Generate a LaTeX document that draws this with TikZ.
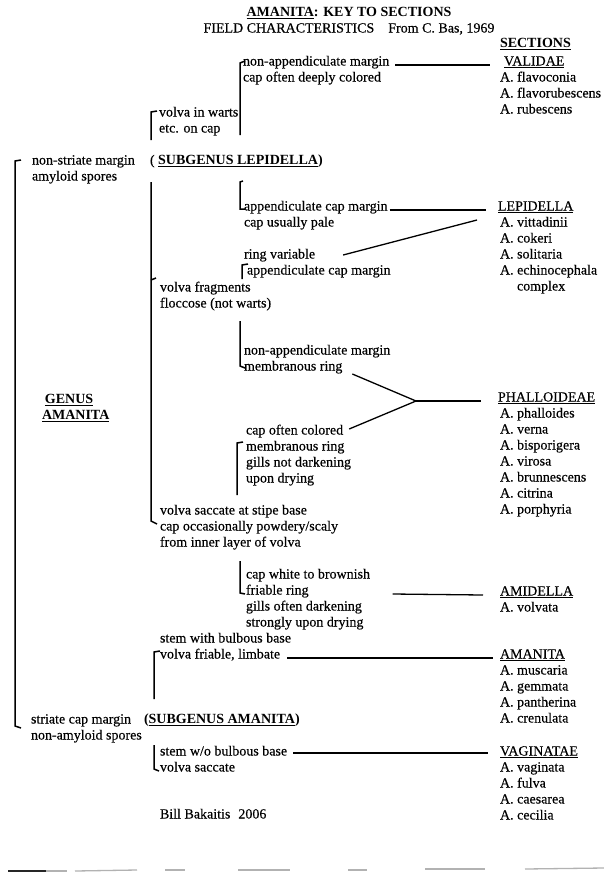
\documentclass[tikz,border=0pt]{standalone}
\usepackage{fontspec}
\setmainfont{Liberation Serif}[UprightFeatures={FakeBold=0.3}]
\usetikzlibrary{calc}
\newcommand\myul[1]{\setbox0\hbox{#1}\rlap{\rule[-2.3pt]{\wd0}{1.1pt}}\box0}
\begin{document}
\begin{tikzpicture}[x=1pt,y=-1pt,
  every node/.style={inner sep=0pt,outer sep=0pt},
  t/.style={anchor=west,text height=10pt,text depth=3pt,font=\fontsize{14}{16}\selectfont},
  brk/.style={line width=1.5pt},
  conn/.style={line width=1.3pt},
  scan/.style={line width=1.3pt,black!30}]
\useasboundingbox[fill=white] (0,0) rectangle (604,876);

% heading
\node[t,anchor=center] (title) at (349,13) {\textbf{\myul{AMANITA}: KEY TO SECTIONS}};
\node[t,anchor=center] (sub) at (349,29) {FIELD CHARACTERISTICS\hspace{14pt}From C. Bas, 1969};
\node[t] (sections) at (500,44) {\textbf{\myul{SECTIONS}}};

% sections column
\node[t] (validae) at (504,62) {\myul{VALIDAE}};
\foreach \s [count=\i] in {A. flavoconia, A. flavorubescens, A. rubescens}
  \node[t] (val\i) at (500,{62+16*\i}) {\s};
\node[t] (lep) at (498,207) {\myul{LEPIDELLA}};
\foreach \s [count=\i] in {A. vittadinii, A. cokeri, A. solitaria, A. echinocephala}
  \node[t] (lep\i) at (500,{207+16*\i}) {\s};
\node[t] (lep5) at (517,287) {complex};
\node[t] (phal) at (498,398) {\myul{PHALLOIDEAE}};
\foreach \s [count=\i] in {A. phalloides, A. verna, A. bisporigera, A. virosa, A. brunnescens, A. citrina, A. porphyria}
  \node[t] (phal\i) at (500,{398+16*\i}) {\s};
\node[t] (amid) at (500,592) {\myul{AMIDELLA}};
\node[t] (amid1) at (500,608) {A. volvata};
\node[t] (aman) at (500,655) {\myul{AMANITA}};
\foreach \s [count=\i] in {A. muscaria, A. gemmata, A. pantherina, A. crenulata}
  \node[t] (aman\i) at (500,{655+16*\i}) {\s};
\node[t] (vag) at (500,752) {\myul{VAGINATAE}};
\foreach \s [count=\i] in {A. vaginata, A. fulva, A. caesarea, A. cecilia}
  \node[t] (vag\i) at (500,{752+16*\i}) {\s};

% key texts
\node[t] (ns1) at (32,161) {non-striate margin};
\node[t] (ns2) at (32,177) {amyloid spores};
\node[t] (subl) at (150,161) {( \textbf{\myul{SUBGENUS LEPIDELLA})}};
\node[t] (vw1) at (159,113) {volva in warts};
\node[t] (vw2) at (159,129) {etc. on cap};
\node[t] (na1) at (243,62) {non-appendiculate margin};
\node[t] (na2) at (243,78) {cap often deeply colored};
\node[t] (ap1) at (244,207) {appendiculate cap margin};
\node[t] (ap2) at (244,223) {cap usually pale};
\node[t] (rv1) at (244,255) {ring variable};
\node[t] (rv2) at (247,271) {appendiculate cap margin};
\node[t] (vf1) at (160,288) {volva fragments};
\node[t] (vf2) at (160,304) {floccose (not warts)};
\node[t] (nm1) at (244,351) {non-appendiculate margin};
\node[t] (nm2) at (244,367) {membranous ring};
\node[t] (genus1) at (45,400) {\textbf{\myul{GENUS}}};
\node[t] (genus2) at (42,416) {\textbf{\myul{AMANITA}}};
\node[t] (co1) at (246,431) {cap often colored};
\node[t] (co2) at (246,447) {membranous ring};
\node[t] (co3) at (246,463) {gills not darkening};
\node[t] (co4) at (246,479) {upon drying};
\node[t] (vs1) at (160,511) {volva saccate at stipe base};
\node[t] (vs2) at (160,527) {cap occasionally powdery/scaly};
\node[t] (vs3) at (160,543) {from inner layer of volva};
\node[t] (cw1) at (246,575) {cap white to brownish};
\node[t] (cw2) at (246,591) {friable ring};
\node[t] (cw3) at (246,607) {gills often darkening};
\node[t] (cw4) at (246,623) {strongly upon drying};
\node[t] (sb1) at (160,639) {stem with bulbous base};
\node[t] (sb2) at (160,655) {volva friable, limbate};
\node[t] (sc1) at (31,720) {striate cap margin};
\node[t] (suba) at (144,720) {\textbf{(\myul{SUBGENUS AMANITA})}};
\node[t] (sc2) at (31,736) {non-amyloid spores};
\node[t] (wo1) at (160,752) {stem w/o bulbous base};
\node[t] (wo2) at (160,768) {volva saccate};
\node[t] (bill) at (160,815) {Bill Bakaitis\hspace{8pt}2006};

% brackets
\draw[brk] (21,160) -- (15,161) -- (15,726) -- (21,728);
\draw[brk] (157,111) -- (151,112) -- (151,140);
\draw[brk] (245,61) -- (240,63) -- (240,135);
\draw[brk] (151,182) -- (151,521) -- (157,524);
\draw[brk] (151,280) -- (156,278);
\draw[brk] (243,181) -- (240,182) -- (240,209) -- (245,209);
\draw[brk] (248,264) -- (242,265) -- (242,279);
\draw[brk] (240,321) -- (240,366) -- (245,368);
\draw[brk] (243,442) -- (237,443) -- (237,495);
\draw[brk] (240,561) -- (240,593) -- (245,594);
\draw[brk] (160,651) -- (154,652) -- (154,699);
\draw[brk] (154,745) -- (154,769) -- (159,771);

% connectors to sections
\draw[conn] ($(na1.east)+(6,3)$) -- ($(validae.west)+(-14,3)$);
\draw[conn] ($(ap1.east)+(2,3)$) -- ($(lep.west)+(-12,3)$);
\draw[conn] ($(rv1.east)+(28,0)$) -- ($(lep1.west)+(-23,-3)$);
\coordinate (j) at ($(phal.west)+(-82,3)$);
\draw[conn] ($(nm2.east)+(10,7)$) -- (j);
\draw[conn] ($(co1.east)+(6,-2)$) -- (j);
\draw[conn] (j) -- ($(phal.west)+(-17,3)$);
\draw[conn] ($(cw2.east)+(84,3)$) -- ($(amid.west)+(-17,3)$);
\draw[conn] ($(sb2.east)+(7,3)$) -- ($(aman.west)+(-7,3)$);
\draw[conn] ($(wo1.east)+(6,1)$) -- ($(vag.west)+(-12,1)$);

% scan edge at the bottom
\draw[line width=2pt,black!85] (8,871) -- (46,871);
\draw[scan] (46,871) -- (67,871);
\draw[scan] (75,871) -- (137,870);
\draw[scan] (165,870) -- (185,870);
\draw[scan] (238,870) -- (290,870);
\draw[scan] (348,870) -- (367,870);
\draw[scan] (425,869) -- (485,869);
\draw[scan] (525,869) -- (604,868);
\end{tikzpicture}
\end{document}
